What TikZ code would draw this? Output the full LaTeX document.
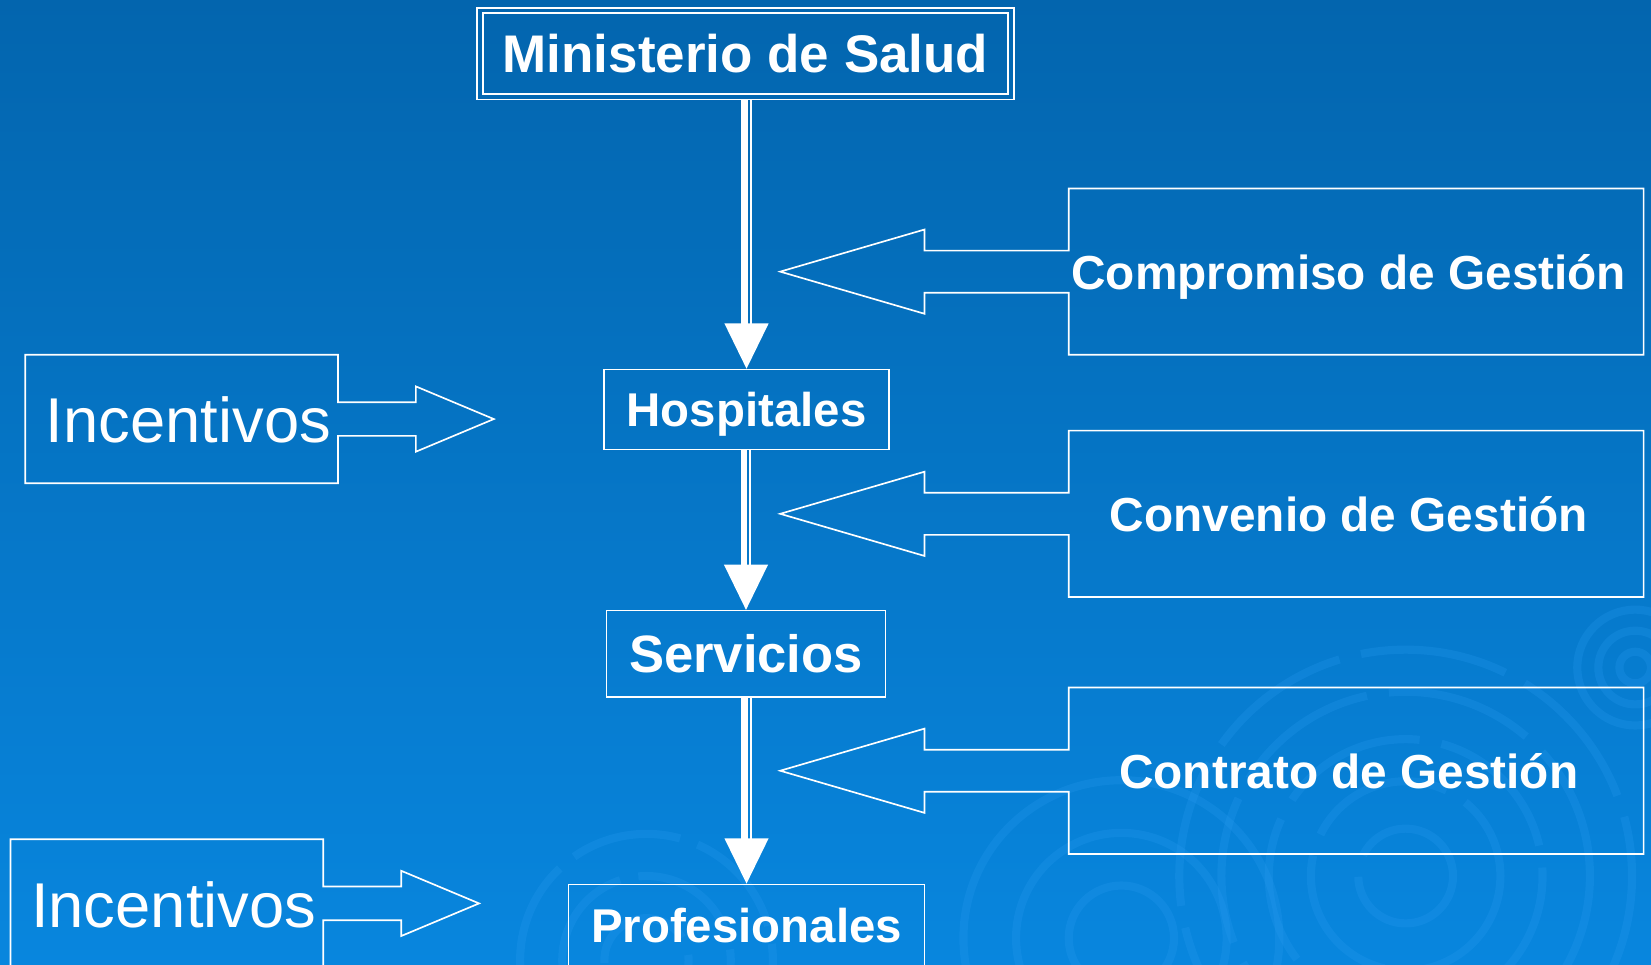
\documentclass[tikz,border=0pt]{standalone}
\usepackage{fontspec}
\setmainfont{Liberation Sans}
\usetikzlibrary{calc}
\definecolor{fondoa}{RGB}{3,101,174}
\definecolor{fondob}{RGB}{4,107,182}
\definecolor{fondoc}{RGB}{8,134,222}
\definecolor{onda}{RGB}{40,155,240}
\tikzset{
  nivel/.style={draw=white, line width=0.45pt, text=white, inner sep=0pt,
    font=\bfseries\fontsize{12.8}{15}\selectfont, text height=9.16pt, text depth=0pt},
  gestion/.style={text=white, inner sep=0pt,
    font=\bfseries\fontsize{12.9}{15}\selectfont, text height=9.24pt, text depth=0pt},
  incent/.style={text=white, inner sep=0pt,
    font=\fontsize{17.1}{20}\selectfont, text height=12.24pt, text depth=0pt},
  contorno/.style={draw=white, line width=0.45pt},
  ola/.style={draw=onda, opacity=0.25, line width=2.2pt}
}
\begin{document}
\begin{tikzpicture}[x=0.01cm, y=-0.01cm, line join=miter]
\useasboundingbox (0,0) rectangle (1568,916);
\shade[top color=fondoa, middle color=fondob, bottom color=fondoc] (0,0) rectangle (1568,916);
% fondo: ondas
\begin{scope}
\clip (0,0) rectangle (1568,916);
\foreach \r in {45,90,130,175,215}
\draw[ola, dash pattern=on 40pt off 6pt] (1335,832) circle (\r);
\foreach \r in {15,35,55}
\draw[ola] (1553,634) circle (\r);
\foreach \r in {40,80,120}
\draw[ola, dash pattern=on 30pt off 5pt] (614,912) circle (\r);
\foreach \r in {50,100,150}
\draw[ola] (1065,891) circle (\r);
\end{scope}
% niveles
\node[nivel, minimum width=4.98cm, minimum height=0.77cm, font=\bfseries\fontsize{14.3}{17}\selectfont, text height=10.24pt] (msal) at (708,51) {Ministerio de Salud};
\node[contorno, minimum width=5.10cm, minimum height=0.87cm] (msalext) at (msal) {};
\node[nivel, minimum width=2.70cm, minimum height=0.76cm] (hosp) at (709,389) {Hospitales};
\node[nivel, minimum width=2.65cm, minimum height=0.82cm, font=\bfseries\fontsize{14.2}{17}\selectfont, text height=10.17pt] (serv) at (708.5,621) {Servicios};
\node[nivel, minimum width=3.38cm, minimum height=0.78cm] (prof) at (709,879) {Profesionales};
\foreach \a/\b in {msalext/hosp, hosp/serv, serv/prof}{
  \draw[white, line width=1.7pt] ($(\b.north |- \a.south)+(-2,0)$) -- ($(\b.north)+(-2,-40)$);
  \draw[white, line width=0.6pt] ($(\b.north |- \a.south)+(4,0)$) -- ($(\b.north)+(4,-40)$);
  \fill[white] (\b.north) -- ++(-21,-43) -- ++(42,0) -- cycle;
}
% instrumentos de gestion
\foreach \yc/\txt/\nm in {258/Compromiso de Gestión/comp, 488/Convenio de Gestión/conv, 732/Contrato de Gestión/cont}{
  \node[gestion] (\nm) at (1281,\yc+1) {\txt};
  \draw[contorno] (1015,\yc-20) -- (1015,\yc-79) -- (1561,\yc-79) -- (1561,\yc+79) -- (1015,\yc+79)
    -- (1015,\yc+20) -- (878,\yc+20) -- (878,\yc+40) -- (741,\yc) -- (878,\yc-40) -- (878,\yc-20) -- cycle;
}
% incentivos
\foreach \yc/\xl/\nm in {398/24/inca, 858/10/incb}{
  \node[incent] (\nm) at (\xl+155,\yc+1) {Incentivos};
  \draw[contorno] (\xl+297,\yc-16) -- (\xl+297,\yc-61) -- (\xl,\yc-61) -- (\xl,\yc+61) -- (\xl+297,\yc+61)
    -- (\xl+297,\yc+16) -- (\xl+371,\yc+16) -- (\xl+371,\yc+31) -- (\xl+445,\yc) -- (\xl+371,\yc-31) -- (\xl+371,\yc-16) -- cycle;
}
\end{tikzpicture}
\end{document}
